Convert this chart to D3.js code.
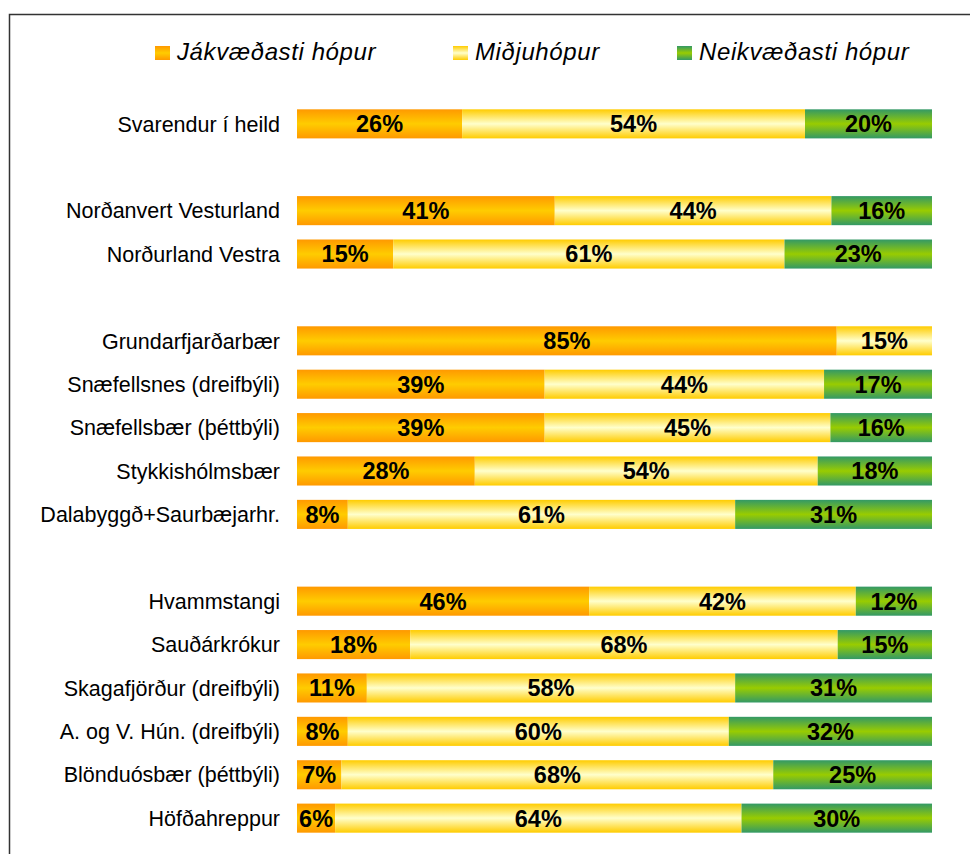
<!DOCTYPE html>
<html>
<head>
<meta charset="utf-8">
<script src="https://cdn.jsdelivr.net/npm/d3@7"></script>
<style>
  body { margin: 0; background: #fff; }
  svg { display: block; font-family: "Liberation Sans", Arial, sans-serif; }
  .row-label { font-size: 21.5px; fill: #000; text-anchor: end; }
  .value-label { font-size: 23.5px; font-weight: bold; fill: #000; text-anchor: middle; }
  .legend-label { font-size: 24px; font-style: italic; fill: #000; letter-spacing: 0.6px; }
</style>
</head>
<body>
<div id="wrapper"></div>
<script>
// rows ("" = empty spacer row between groups)
const categories = [
  "Svarendur í heild", "",
  "Norðanvert Vesturland", "Norðurland Vestra", "",
  "Grundarfjarðarbær", "Snæfellsnes (dreifbýli)", "Snæfellsbær (þéttbýli)", "Stykkishólmsbær", "Dalabyggð+Saurbæjarhr.", "",
  "Hvammstangi", "Sauðárkrókur", "Skagafjörður (dreifbýli)", "A. og V. Hún. (dreifbýli)", "Blönduósbær (þéttbýli)", "Höfðahreppur",
]
const seriesNames = ["Jákvæðasti hópur", "Miðjuhópur", "Neikvæðasti hópur"]
const jakvaedasti = [26, null, 41, 15, null, 85, 39, 39, 28, 8, null, 46, 18, 11, 8, 7, 6]
const midjuhopur  = [54, null, 44, 61, null, 15, 44, 45, 54, 61, null, 42, 68, 58, 60, 68, 64]
const neikvaedasti = [20, null, 16, 23, null, 0, 17, 16, 18, 31, null, 12, 15, 31, 32, 25, 30]

function drawChart() {
  const dimensions = { width: 970, height: 854 }

  const rows = categories.map((c, i) => ({
    index: i,
    label: c,
    j: jakvaedasti[i],
    m: midjuhopur[i],
    n: neikvaedasti[i],
  }))
  const dataRows = rows.filter(d => d.label !== "")

  const stack = d3.stack()
    .keys(["j", "m", "n"])
    .offset(d3.stackOffsetExpand)
  const stacked = stack(dataRows)

  // scales
  const yScale = d3.scaleBand()
    .domain(d3.range(categories.length))
    .range([95, 847])
    .padding(0.33)

  const xScale = d3.scaleLinear()
    .domain([0, 1])
    .range([297, 932])

  const wrapper = d3.select("#wrapper")
    .append("svg")
      .attr("width", dimensions.width)
      .attr("height", dimensions.height)

  // gradients
  const defs = wrapper.append("defs")
  const gradientStops = [
    ["#ff9900", "#ffcc00", "#ff9900"],
    ["#ffcc00", "#ffffcc", "#ffcc00"],
    ["#339966", "#99cc00", "#339966"],
  ]
  gradientStops.forEach((stops, k) => {
    const g = defs.append("linearGradient")
        .attr("id", `grad-${k}`)
        .attr("x1", "0%").attr("x2", "0%")
        .attr("y1", "0%").attr("y2", "100%")
    stops.forEach((s, i) => {
      g.append("stop")
        .attr("offset", `${i * 50}%`)
        .attr("stop-color", s)
    })
  })

  // frame
  wrapper.append("path")
      .attr("d", `M9.5,${dimensions.height} V14.5 H${dimensions.width}`)
      .attr("fill", "none")
      .attr("stroke", "#333")
      .attr("stroke-width", 1.5)

  // bars
  const layers = wrapper.selectAll(".layer")
      .data(stacked)
    .enter().append("g")
      .attr("class", "layer")
      .attr("fill", (d, i) => `url(#grad-${i})`)

  layers.selectAll("rect")
      .data(d => d)
    .enter().append("rect")
      .attr("x", d => xScale(d[0]))
      .attr("width", d => xScale(d[1]) - xScale(d[0]))
      .attr("y", d => yScale(d.data.index))
      .attr("height", yScale.bandwidth())

  layers.selectAll(".value-label")
      .data((d, i) => d.map(v => ({ v, key: d.key })).filter(o => o.v.data[o.key] > 0))
    .enter().append("text")
      .attr("class", "value-label")
      .attr("x", o => (xScale(o.v[0]) + xScale(o.v[1])) / 2)
      .attr("y", o => yScale(o.v.data.index) + yScale.bandwidth() / 2)
      .attr("dy", "0.36em")
      .text(o => `${o.v.data[o.key]}%`)

  // row labels
  wrapper.selectAll(".row-label")
      .data(dataRows)
    .enter().append("text")
      .attr("class", "row-label")
      .attr("x", 280)
      .attr("y", d => yScale(d.index) + yScale.bandwidth() / 2)
      .attr("dy", "0.36em")
      .text(d => d.label)

  // legend
  const legendX = [155, 453, 677]
  const legend = wrapper.selectAll(".legend")
      .data(seriesNames)
    .enter().append("g")
      .attr("class", "legend")
      .attr("transform", (d, i) => `translate(${legendX[i]}, 46)`)
  legend.append("rect")
      .attr("width", 15)
      .attr("height", 14)
      .attr("fill", (d, i) => `url(#grad-${i})`)
  legend.append("text")
      .attr("class", "legend-label")
      .attr("x", 22)
      .attr("y", 14)
      .text(d => d)
}
drawChart()
</script>
</body>
</html>
